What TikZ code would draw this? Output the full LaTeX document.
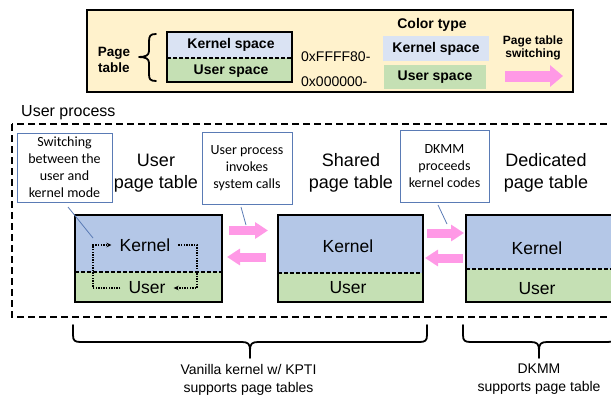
\documentclass[tikz,border=0pt]{standalone}
\usepackage{fontspec}
\setmainfont{Liberation Sans}
\newfontfamily\calib{Carlito}
\usetikzlibrary{arrows.meta}
\definecolor{legendbg}{HTML}{FFF2CC}
\definecolor{kspace}{HTML}{DAE3F3}
\definecolor{kfill}{HTML}{B4C7E7}
\definecolor{ufill}{HTML}{C5E0B4}
\definecolor{pinkc}{HTML}{FF99E6}
\definecolor{notec}{HTML}{5A7BB5}
\begin{document}
\begin{tikzpicture}[x=1pt,y=-1pt,
  thickbox/.style={draw=black,line width=2.6pt},
  divline/.style={line width=1.4pt,dash pattern=on 4pt off 2pt},
  notebox/.style={draw=notec,line width=0.8pt,fill=white,align=center,inner sep=0pt,font=\calib\fontsize{14}{17}\selectfont},
  noteline/.style={draw=notec,line width=0.8pt},
  bigtxt/.style={align=center,font=\fontsize{18}{21.5}\selectfont,inner sep=0pt},
  lbl/.style={font=\fontsize{17.5}{20}\selectfont,inner sep=0pt},
  legtxt/.style={font=\bfseries\fontsize{14}{16}\selectfont,inner sep=0pt,align=center},
  swarrow/.style={draw=pinkc,line width=9pt,-{Triangle[width=16pt,length=13pt]}},
  dotloop/.style={line width=1.3pt,dash pattern=on 1.3pt off 1.3pt,-{Stealth[length=5pt,width=4.5pt]}},
  bracestyle/.style={line width=1.8pt,line cap=round,line join=round},
  captxt/.style={align=center,font=\fontsize{14}{18}\selectfont,inner sep=0pt}
]
\useasboundingbox (0,0) rectangle (611,394);
\clip (0,0) rectangle (611,394);

% ---------------- legend ----------------
\node[draw=black,line width=2.6pt,fill=legendbg,minimum width=486pt,minimum height=82pt,inner sep=0pt] (legend) at (330,51) {};
\node[legtxt,font=\bfseries\fontsize{13.5}{16}\selectfont] (ptlabel) at (114,60) {Page\\table};
\draw[bracestyle] (156,34) .. controls (150,34) and (149,36) .. (149,42) -- (149,51)
   .. controls (149,55) and (146,57) .. (139,57)
   .. controls (146,57) and (149,59) .. (149,63) -- (149,74)
   .. controls (149,79) and (150,81) .. (156,81);
\fill[kspace] (167,32) rectangle (292,58);
\fill[ufill] (167,58) rectangle (292,82);
\draw[divline] (167,58) -- (292,58);
\draw[thickbox] (167,32) rectangle (292,82);
\node[legtxt] (lks) at (231,45) {Kernel space};
\node[legtxt] (lus) at (231,71) {User space};
\node[font=\fontsize{14}{16}\selectfont,anchor=west,inner sep=0pt] (addr1) at (301,57) {0xFFFF80-};
\node[font=\fontsize{14}{16}\selectfont,anchor=west,inner sep=0pt] (addr2) at (301,82) {0x000000-};
\node[legtxt] (ctype) at (432,25) {Color type};
\node[legtxt,fill=kspace,minimum width=106pt,minimum height=25pt] (cks) at (436,48.5) {Kernel space};
\node[legtxt,fill=ufill,minimum width=102pt,minimum height=24pt] (cus) at (435,77) {User space};
\node[legtxt,font=\bfseries\fontsize{12}{13.5}\selectfont] (pts) at (533,48) {Page table\\switching};
\coordinate (la1) at (505,76);
\coordinate (la2) at (563,76);
\draw[draw=pinkc,line width=11pt,-{Triangle[width=21pt,length=13pt]}] (la1) -- (la2);

% ---------------- user process ----------------
\node[anchor=base west,font=\fontsize{16}{18}\selectfont,inner sep=0pt] (uproc) at (21,116) {User process};
\draw[line width=2.3pt,dash pattern=on 7pt off 4pt] (12,124) rectangle (650,317);

% notes
\node[notebox,minimum width=95pt,minimum height=69pt] (note1) at (64.5,167.5) {Switching\\between the\\user and\\kernel mode};
\node[notebox,minimum width=90pt,minimum height=72pt] (note2) at (247,168) {User process\\invokes\\system calls};
\node[notebox,minimum width=89pt,minimum height=72pt] (note3) at (444.5,166) {DKMM\\proceeds\\kernel codes};

% titles
\node[bigtxt] (t1) at (156,173) {User\\page table};
\node[bigtxt] (t2) at (351,173) {Shared\\page table};
\node[bigtxt] (t3) at (546,173) {Dedicated\\page table};

% user page table
\fill[kfill] (75,215) rectangle (222,272);
\fill[ufill] (75,272) rectangle (222,302);
\draw[divline] (75,272) -- (222,272);
\draw[thickbox] (75,215) rectangle (222,302);
\node[lbl,inner xsep=8pt] (k1) at (145,245) {Kernel};
\node[lbl,inner xsep=8pt] (u1) at (147,288) {User};
\coordinate (lx) at (93,0);
\coordinate (rx) at (197,0);
\draw[dotloop] (u1.west) -| (lx |- k1.west) -- (k1.west);
\draw[dotloop] (k1.east) -| (rx |- u1.east) -- (u1.east);

% shared page table
\fill[kfill] (278,215) rectangle (423,273);
\fill[ufill] (278,273) rectangle (423,302);
\draw[divline] (278,273) -- (423,273);
\draw[thickbox] (278,215) rectangle (423,302);
\node[lbl] (k2) at (348,246) {Kernel};
\node[lbl] (u2) at (348,288) {User};

% dedicated page table
\fill[kfill] (466,215) rectangle (650,269);
\fill[ufill] (466,269) rectangle (650,302);
\draw[divline] (466,269) -- (650,269);
\draw[thickbox] (466,215) rectangle (650,302);
\node[lbl] (k3) at (537,248) {Kernel};
\node[lbl] (u3) at (537,289) {User};

% switching arrows
\coordinate (a1s) at (229,230.5); \coordinate (a1e) at (268,230.5);
\coordinate (a2s) at (266,257);   \coordinate (a2e) at (227,257);
\coordinate (a3s) at (427,233);   \coordinate (a3e) at (464,233);
\coordinate (a4s) at (463,258);   \coordinate (a4e) at (425,258);
\draw[swarrow] (a1s) -- (a1e);
\draw[swarrow] (a2s) -- (a2e);
\draw[swarrow] (a3s) -- (a3e);
\draw[swarrow] (a4s) -- (a4e);

% note pointers
\coordinate (n1a) at (68,207);  \coordinate (n1b) at (93,238);
\coordinate (n2a) at (241,207); \coordinate (n2b) at (246,225);
\coordinate (n3a) at (438,205); \coordinate (n3b) at (447,224);
\draw[noteline] (n1a) -- (n1b);
\draw[noteline] (n2a) -- (n2b);
\draw[noteline] (n3a) -- (n3b);

% braces
\draw[bracestyle] (73,325) -- (73,335) .. controls (73,341) and (75,342) .. (81,342) -- (242,342)
  .. controls (248,342) and (250,344) .. (250,350) -- (250,358)
  -- (250,350) .. controls (250,344) and (252,342) .. (258,342) -- (419,342)
  .. controls (425,342) and (427,341) .. (427,335) -- (427,325);
\draw[bracestyle] (463,325) -- (463,335) .. controls (463,341) and (465,342) .. (471,342) -- (531,342)
  .. controls (537,342) and (539,344) .. (539,350) -- (539,358)
  -- (539,350) .. controls (539,344) and (541,342) .. (547,342) -- (607,342)
  .. controls (613,342) and (615,341) .. (615,335) -- (615,325);
\node[captxt] (c1) at (248.5,379.5) {Vanilla kernel w/ KPTI\\supports page tables};
\node[captxt] (c2) at (539,379.5) {DKMM\\supports page table};
\end{tikzpicture}
\end{document}
